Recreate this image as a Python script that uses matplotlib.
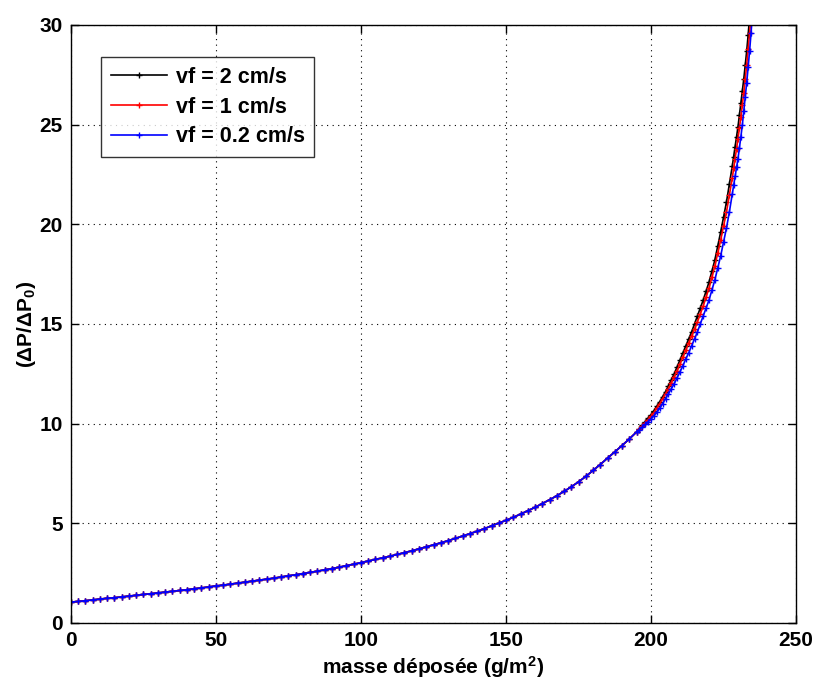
import numpy as np
import matplotlib
matplotlib.use("Agg")
import matplotlib.pyplot as plt

plt.rcParams['font.family'] = ['Liberation Sans', 'DejaVu Sans']
plt.rcParams['font.weight'] = 'bold'
plt.rcParams['mathtext.fontset'] = 'custom'
plt.rcParams['mathtext.rm'] = 'Liberation Sans:bold'
plt.rcParams['mathtext.bf'] = 'Liberation Sans:bold'
plt.rcParams['mathtext.default'] = 'bf'

# ---- data ----
# shared part of the three curves (they overlap up to ~195 g/m2)
m_common = [0, 2.5, 5, 7.5, 10, 12.5, 15, 17.5, 20, 22.5, 25, 27.5, 30, 32.5, 35, 37.5,
            40, 42.5, 45, 47.5, 50, 52.5, 55, 57.5, 60, 62.5, 65, 67.5, 70, 72.5, 75, 77.5,
            80, 82.5, 85, 87.5, 90, 92.5, 95, 97.5, 100, 102.5, 105, 107.5, 110, 112.5, 115,
            117.5, 120, 122.5, 125, 127.5, 130, 132.5, 135, 137.5, 140, 142.5, 145, 147.5,
            150, 152.5, 155, 157.5, 160, 162.5, 165, 167.5, 170, 172.5, 175, 177.5, 180,
            182.5, 185, 187.5, 190, 192.5, 195]
dp_common = [1.05, 1.08, 1.12, 1.16, 1.20, 1.24, 1.27, 1.31, 1.35, 1.39, 1.43, 1.47, 1.51,
             1.55, 1.59, 1.63, 1.67, 1.72, 1.76, 1.81, 1.86, 1.90, 1.95, 2.00, 2.05, 2.10,
             2.15, 2.20, 2.25, 2.31, 2.37, 2.42, 2.48, 2.54, 2.60, 2.67, 2.73, 2.80, 2.88,
             2.95, 3.03, 3.11, 3.19, 3.27, 3.35, 3.44, 3.53, 3.62, 3.72, 3.82, 3.92, 4.02,
             4.13, 4.24, 4.36, 4.48, 4.60, 4.73, 4.87, 5.01, 5.15, 5.30, 5.46, 5.63, 5.80,
             5.99, 6.18, 6.38, 6.60, 6.83, 7.08, 7.35, 7.65, 7.95, 8.27, 8.58, 8.90, 9.23, 9.58]

# vf = 2 cm/s tail
m_tail_2 = [196, 197, 198, 199, 200, 201, 202, 203, 204, 205, 206, 207, 208, 209, 210, 211,
            212, 213, 214, 215, 216, 217, 218, 219, 220, 221, 222, 223, 224, 225, 226, 227,
            228, 228.5, 229, 229.5, 230, 230.5, 231, 231.5, 232, 232.5, 233, 233.5, 234, 234.5]
dp_tail_2 = [9.75, 9.92, 10.1, 10.28, 10.45, 10.65, 10.87, 11.1, 11.35, 11.6, 11.9, 12.2, 12.5,
             12.85, 13.2, 13.55, 13.9, 14.25, 14.6, 15.0, 15.4, 15.8, 16.2, 16.65, 17.1,
             17.65, 18.2, 18.9, 19.6, 20.35, 21.1, 22.0, 22.9, 23.4, 23.9, 24.4, 24.9, 25.5,
             26.1, 26.7, 27.3, 28.0, 28.7, 29.5, 30.4, 31.3]

# vf = 1 cm/s tail
m_tail_1 = [196, 197, 198, 199, 200, 201, 202, 203, 204, 205, 206, 207, 208, 209, 210, 211,
            212, 213, 214, 215, 216, 217, 218, 219, 220, 221, 222, 223, 224, 225, 226, 227,
            228, 228.5, 229, 229.5, 230, 230.5, 231, 231.5, 232, 232.5, 233, 233.5, 234,
            234.5, 235]
dp_tail_1 = [9.73, 9.89, 10.05, 10.2, 10.36, 10.55, 10.77, 11.0, 11.25, 11.5, 11.75, 12.05,
             12.35, 12.65, 13.0, 13.35, 13.7, 14.05, 14.4, 14.75, 15.1, 15.5, 15.9, 16.35,
             16.8, 17.35, 17.9, 18.55, 19.2, 19.9, 20.6, 21.45, 22.3, 22.8, 23.3, 23.8, 24.3,
             24.85, 25.4, 26.0, 26.6, 27.3, 28.0, 28.8, 29.6, 30.4, 31.3]

# vf = 0.2 cm/s tail
m_tail_02 = [196, 197, 198, 199, 200, 201, 202, 203, 204, 205, 206, 207, 208, 209, 210, 211,
             212, 213, 214, 215, 216, 217, 218, 219, 220, 221, 222, 223, 224, 225, 226, 227,
             228, 228.5, 229, 229.5, 230, 230.5, 231, 231.5, 232, 232.5, 233, 233.5, 234,
             234.5, 235, 235.5]
dp_tail_02 = [9.7, 9.83, 9.96, 10.1, 10.24, 10.4, 10.57, 10.77, 11.0, 11.25, 11.5, 11.75,
              12.0, 12.3, 12.6, 12.9, 13.25, 13.55, 13.9, 14.25, 14.6, 15.0, 15.4, 15.8,
              16.2, 16.7, 17.2, 17.8, 18.4, 19.1, 19.8, 20.6, 21.5, 21.95, 22.4, 22.85, 23.3,
              23.85, 24.4, 25.0, 25.7, 26.4, 27.1, 27.9, 28.7, 29.6, 30.6, 31.5]

labels = ['vf = 2 cm/s', 'vf = 1 cm/s', 'vf = 0.2 cm/s']
colors = ['black', 'red', 'blue']
x_ticks = [0, 50, 100, 150, 200, 250]
y_ticks = [0, 5, 10, 15, 20, 25, 30]

series = [
    (m_common + m_tail_2, dp_common + dp_tail_2),
    (m_common + m_tail_1, dp_common + dp_tail_1),
    (m_common + m_tail_02, dp_common + dp_tail_02),
]

fig = plt.figure(figsize=(8.16, 6.89), dpi=100)
ax = fig.add_axes([0.087, 0.0958, 0.8885, 0.868])

for (mx, dy), lab, c in zip(series, labels, colors):
    ax.plot(mx, dy, color=c, lw=1.2, marker='+', ms=5, mew=1.0, label=lab)

ax.set_xlim(0, 250)
ax.set_ylim(0, 30)
ax.set_xticks(x_ticks)
ax.set_yticks(y_ticks)
ax.grid(True, color='black', linestyle=(0, (1, 4)), linewidth=0.8)
ax.tick_params(direction='in', length=6, width=1, top=True, right=True,
               labelsize=15, pad=6)
for lbl in ax.get_xticklabels() + ax.get_yticklabels():
    lbl.set_fontweight('bold')
for s in ax.spines.values():
    s.set_linewidth(1.0)

ax.set_xlabel(r'masse déposée (g/m$^{2}$)', fontsize=15, fontweight='bold', labelpad=3)
ax.set_ylabel(r'($\Delta$P/$\Delta$P$_{0}$)', fontsize=15, fontweight='bold', labelpad=1)

leg = ax.legend(loc='upper left', bbox_to_anchor=(0.042, 0.946), borderaxespad=0,
                fontsize=15.5, frameon=True, fancybox=False, edgecolor='black',
                handlelength=2.6, handletextpad=0.4, borderpad=0.45, labelspacing=0.4,
                numpoints=1)
leg.get_frame().set_linewidth(1.0)
for t in leg.get_texts():
    t.set_fontweight('bold')

fig.savefig('out.png', dpi=100)
